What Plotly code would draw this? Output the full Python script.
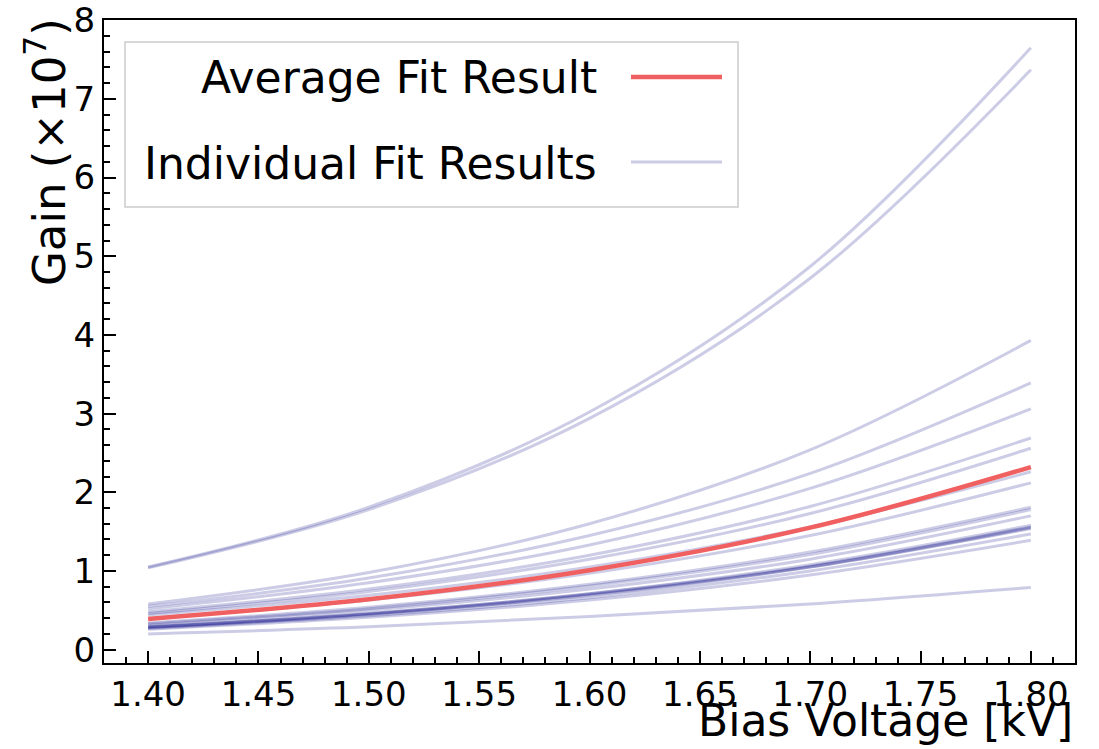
import plotly.graph_objects as go

# Bias voltage sample points [kV]
voltage = [1.40, 1.50, 1.60, 1.70, 1.80]

# Individual fit results, gain in units of 1e7
fit_01 = [1.05, 1.81, 3.02, 4.87, 7.65]
fit_02 = [1.04, 1.78, 2.94, 4.72, 7.37]
fit_03 = [0.58, 0.98, 1.60, 2.54, 3.93]
fit_04 = [0.55, 0.91, 1.45, 2.24, 3.39]
fit_05 = [0.52, 0.85, 1.33, 2.05, 3.06]
fit_06 = [0.48, 0.77, 1.20, 1.82, 2.69]
fit_07 = [0.46, 0.74, 1.15, 1.73, 2.56]
fit_08 = [0.44, 0.69, 1.05, 1.56, 2.26]
fit_09 = [0.40, 0.63, 0.97, 1.45, 2.12]
fit_10 = [0.34, 0.54, 0.83, 1.24, 1.81]
fit_11 = [0.33, 0.52, 0.81, 1.21, 1.78]
fit_12 = [0.31, 0.50, 0.77, 1.15, 1.70]
fit_13 = [0.29, 0.46, 0.71, 1.08, 1.58]
fit_14 = [0.29, 0.46, 0.71, 1.06, 1.56]
fit_15 = [0.28, 0.45, 0.70, 1.05, 1.55]
fit_16 = [0.28, 0.45, 0.69, 1.05, 1.54]
fit_17 = [0.27, 0.43, 0.66, 1.00, 1.47]
fit_18 = [0.26, 0.41, 0.63, 0.95, 1.39]
fit_19 = [0.20, 0.29, 0.42, 0.58, 0.79]
individual_fits = [fit_01, fit_02, fit_03, fit_04, fit_05, fit_06, fit_07,
                   fit_08, fit_09, fit_10, fit_11, fit_12, fit_13, fit_14,
                   fit_15, fit_16, fit_17, fit_18, fit_19]

# Average fit result
average_fit = [0.39, 0.64, 1.01, 1.55, 2.32]

x_ticks = [1.40, 1.45, 1.50, 1.55, 1.60, 1.65, 1.70, 1.75, 1.80]
y_ticks = [0, 1, 2, 3, 4, 5, 6, 7, 8]

FONT = "DejaVu Sans"
IND_COLOR = "rgba(0,0,128,0.2)"
AVG_COLOR = "#F06060"

fig = go.Figure()
for ys in individual_fits:
    fig.add_trace(go.Scatter(x=voltage, y=ys, mode="lines",
                             line=dict(color=IND_COLOR, width=3, shape="spline"),
                             showlegend=False, hoverinfo="skip"))
fig.add_trace(go.Scatter(x=voltage, y=average_fit, mode="lines",
                         line=dict(color=AVG_COLOR, width=4.5, shape="spline"),
                         showlegend=False, hoverinfo="skip"))

axis_common = dict(
    showgrid=False, zeroline=False, showline=True, linecolor="black",
    linewidth=2, mirror=True, ticks="inside", ticklen=12, tickwidth=2,
    tickcolor="black", tickfont=dict(family=FONT, size=34, color="black"),
    automargin=False,
)
fig.update_xaxes(range=[1.38, 1.82], tickvals=x_ticks,
                 ticktext=[f"{v:.2f}" for v in x_ticks],
                 minor=dict(dtick=0.01, ticks="inside", ticklen=6,
                            tickwidth=1.5, tickcolor="black", tick0=1.40),
                 **axis_common)
fig.update_yaxes(range=[-0.17, 8.003], tickvals=y_ticks,
                 minor=dict(dtick=0.2, ticks="inside", ticklen=6,
                            tickwidth=1.5, tickcolor="black", tick0=0),
                 **axis_common)

L, R, T, B = 104, 24, 20, 86
W, H = 1099, 749
pw, ph = W - L - R, H - T - B


def px(xp):
    return (xp - L) / pw


def py(yp):
    return (H - B - yp) / ph


shapes = [
    dict(type="rect", xref="paper", yref="paper", x0=px(125), x1=px(738),
         y0=py(207), y1=py(42), line=dict(color="#cccccc", width=1.5),
         fillcolor="rgba(255,255,255,0.8)", layer="above"),
    dict(type="line", xref="paper", yref="paper", x0=px(631), x1=px(722),
         y0=py(77), y1=py(77), line=dict(color=AVG_COLOR, width=4.5), layer="above"),
    dict(type="line", xref="paper", yref="paper", x0=px(631), x1=px(722),
         y0=py(162), y1=py(162), line=dict(color=IND_COLOR, width=3), layer="above"),
]

annotations = [
    dict(text="Average Fit Result", xref="paper", yref="paper", x=px(599),
         y=py(78), xanchor="right", yanchor="middle", showarrow=False,
         font=dict(family=FONT, size=44, color="black")),
    dict(text="Individual Fit Results", xref="paper", yref="paper", x=px(599),
         y=py(163), xanchor="right", yanchor="middle", showarrow=False,
         font=dict(family=FONT, size=44, color="black")),
    dict(text="Bias Voltage [kV]", xref="paper", yref="paper", x=1, y=0,
         xanchor="right", yanchor="middle", yshift=-57, showarrow=False,
         font=dict(family=FONT, size=44, color="black")),
    dict(text="Gain (×10<sup>7</sup>)", xref="paper", yref="paper", x=0, y=1,
         xanchor="center", yanchor="top", xshift=-58, yshift=4, textangle=-90,
         showarrow=False, font=dict(family=FONT, size=45, color="black")),
]

fig.update_layout(
    width=W, height=H, margin=dict(l=L, r=R, t=T, b=B),
    paper_bgcolor="white", plot_bgcolor="white",
    shapes=shapes, annotations=annotations, showlegend=False,
)

fig.write_html("out.html")
